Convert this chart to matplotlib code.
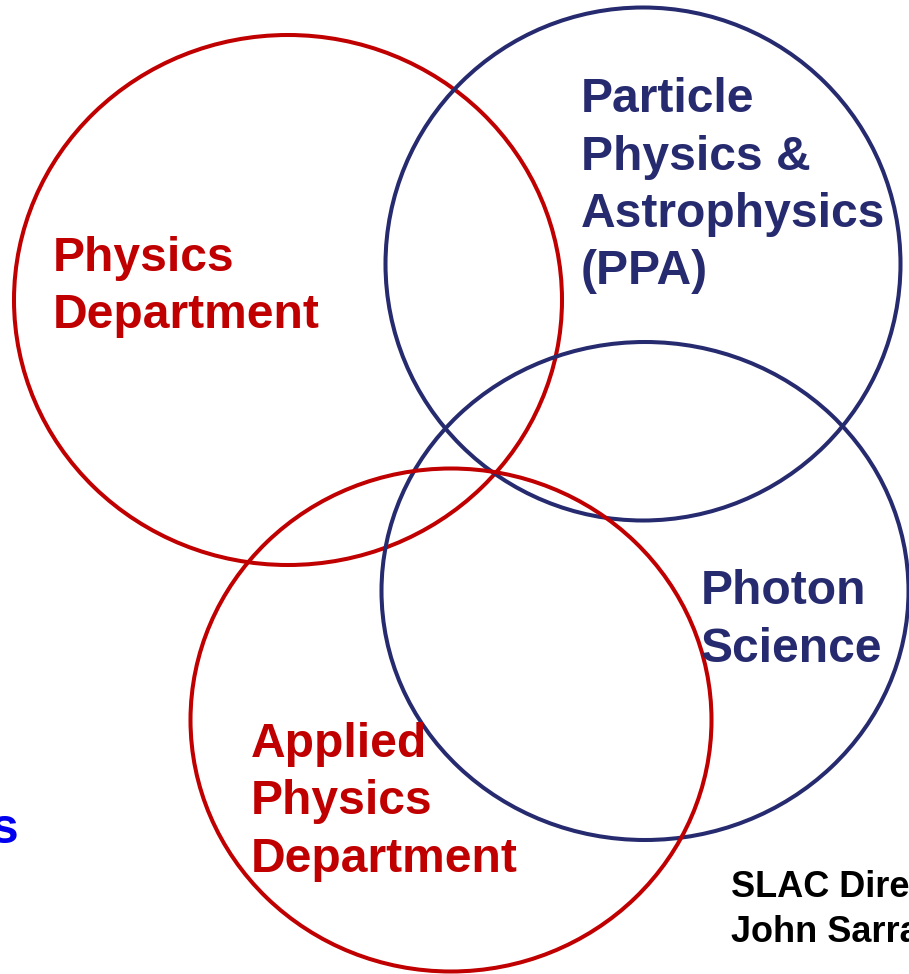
import matplotlib
matplotlib.use("Agg")
import matplotlib.pyplot as plt
from matplotlib.patches import Ellipse

W, H = 909, 974

# Circles (pixel-space geometry)
circle_names = ["Physics Department", "PPA", "Photon Science", "Applied Physics Department"]
circle_cx = [288, 643, 645, 451]
circle_cy = [300, 264, 591, 720]
circle_w = [548, 515, 527, 521]
circle_h = [530, 513, 498, 503]
circle_colors = ["#C00000", "#262A6E", "#262A6E", "#C00000"]

# Labels
label_lines = [
    ["Physics", "Department"],
    ["Particle", "Physics &", "Astrophysics", "(PPA)"],
    ["Photon", "Science"],
    ["Applied", "Physics", "Department"],
]
label_x = [55, 583, 703, 253]
label_first_baseline = [271, 112, 604, 757]
label_colors = ["#C00000", "#262A6E", "#262A6E", "#C00000"]
line_step = 57.5

fig = plt.figure(figsize=(W / 100, H / 100), dpi=100)
ax = fig.add_axes([0, 0, 1, 1])
ax.set_xlim(0, W)
ax.set_ylim(H, 0)
ax.axis("off")

for cx, cy, w, h, c in zip(circle_cx, circle_cy, circle_w, circle_h, circle_colors):
    ax.add_patch(Ellipse((cx, cy), w, h, fill=False, edgecolor=c, linewidth=2.9))

font = ["Liberation Sans", "DejaVu Sans"]
for lines, x, y0, c in zip(label_lines, label_x, label_first_baseline, label_colors):
    for i, line in enumerate(lines):
        ax.text(x - 2, y0 + i * line_step, line, color=c, fontsize=34.6, fontweight="bold",
                family=font, ha="left", va="baseline")

# Partial left-edge word
ax.text(18, 843, "s", color="#0000EE", fontsize=36, fontweight="bold", family=font,
        ha="right", va="baseline")

# Credit text at lower right (cut by the edge, as in the source)
credit_lines = ["SLAC Director", "John Sarrao"]
for i, line in enumerate(credit_lines):
    ax.text(731, 897 + i * 45, line, color="black", fontsize=26, fontweight="bold",
            family=font, ha="left", va="baseline")

fig.savefig("out.png", dpi=100)
